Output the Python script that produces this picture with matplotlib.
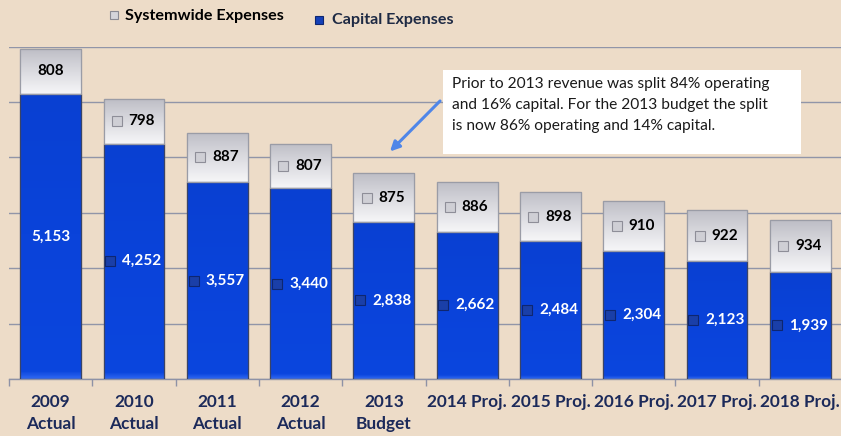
import numpy as np
import matplotlib
matplotlib.use("Agg")
import matplotlib.pyplot as plt
from matplotlib.patches import Rectangle
from matplotlib.colors import LinearSegmentedColormap

categories = ["2009\nActual", "2010\nActual", "2011\nActual", "2012\nActual", "2013\nBudget",
              "2014 Proj.", "2015 Proj.", "2016 Proj.", "2017 Proj.", "2018 Proj."]
capital = [5153, 4252, 3557, 3440, 2838, 2662, 2484, 2304, 2123, 1939]
systemwide = [808, 798, 887, 807, 875, 886, 898, 910, 922, 934]
show_icon = [False, True, True, True, True, True, True, True, True, True]
legend_labels = ["Systemwide Expenses", "Capital Expenses"]
note = ("Prior to 2013 revenue was split 84% operating\n"
        "and 16% capital. For the 2013 budget the split\n"
        "is now 86% operating and 14% capital.")

FONT = "Lato"
BG = "#EDDCC8"
BLUE = "#0A43DA"
GREY = "#D9D9DE"
NAVY = "#1C2A5A"

fig = plt.figure(figsize=(8.41, 4.36), dpi=100, facecolor=BG)
ax = fig.add_axes([9/841, 57/436, 833/841, 332.3/436])
ax.set_facecolor("none")

x = np.arange(len(categories))
w = 0.73
ax.set_xlim(-0.5, len(categories) - 0.5)
ax.set_ylim(0, 6000)

# gridlines
ax.set_yticks(np.arange(0, 6001, 1000))
ax.yaxis.grid(True, color="#9195A8", linewidth=1.0, zorder=0)
ax.tick_params(axis="y", left=False, labelleft=False)
for s in ["left", "right", "top"]:
    ax.spines[s].set_visible(False)
ax.spines["bottom"].set_color("#8E92A6")
ax.spines["bottom"].set_linewidth(1.0)

# category boundary ticks
ax.set_xticks(np.arange(-0.5, len(categories), 1.0), minor=True)
ax.tick_params(axis="x", which="minor", length=5, color="#8E92A6", width=1)
ax.set_xticks(x)
ax.set_xticklabels(categories, fontfamily=FONT, fontweight="bold", fontsize=12.4,
                   color=NAVY, linespacing=1.45)
ax.tick_params(axis="x", which="major", length=0, pad=11)

cmap_blue = LinearSegmentedColormap.from_list("b", ["#2E66F0", "#0B46DE", "#0A43DA", "#0940D2"])
cmap_grey = LinearSegmentedColormap.from_list("g", ["#F6F6F8", "#E4E4E8", "#D2D2D8", "#BEBEC6"])

bars_b = ax.bar(x, capital, width=w, color=BLUE, edgecolor="#4A5270", linewidth=0.8, zorder=2)
bars_g = ax.bar(x, systemwide, width=w, bottom=capital, color=GREY, edgecolor="#8A8C96",
                linewidth=0.8, zorder=2)

# gradients clipped to bars
grad_g = np.linspace(0, 1, 100).reshape(-1, 1)
grad_b = np.concatenate([np.linspace(0, 0.33, 6), np.linspace(0.34, 1, 194)]).reshape(-1, 1)
for rb, rg in zip(bars_b, bars_g):
    x0 = rb.get_x()
    im = ax.imshow(grad_g, cmap=cmap_grey, aspect="auto", zorder=2.5,
                   extent=(x0, x0 + w, rg.get_y() + rg.get_height(), rg.get_y()))
    im.set_clip_path(rg)
    im2 = ax.imshow(grad_b, cmap=cmap_blue, aspect="auto", zorder=2.5,
                    extent=(x0, x0 + w, rb.get_height(), 0))
    im2.set_clip_path(rb)
    for r, ec in ((rb, "#3A4466"), (rg, "#9A9CA6")):
        ax.add_patch(Rectangle((r.get_x(), r.get_y()), w, r.get_height(), fill=False,
                               edgecolor=ec, linewidth=0.9, zorder=3))

fig.canvas.draw()
renderer = fig.canvas.get_renderer()


def label(xc, yc, txt, color, icon, icon_fc, icon_ec):
    t = ax.text(xc, yc, txt, ha="center", va="center", fontfamily=FONT, fontweight="bold",
                fontsize=11, color=color, zorder=5)
    if icon:
        bb = t.get_window_extent(renderer)
        tw = bb.width
        gap = 8
        isz = 8
        total = isz + gap + tw
        disp = ax.transData.transform((xc, yc))
        left = disp[0] - total / 2
        t.set_position(ax.transData.inverted().transform((left + isz + gap + tw / 2, disp[1])))
        ipos = ax.transData.inverted().transform((left + isz / 2, disp[1]))
        ax.plot(ipos[0], ipos[1], marker="s", markersize=6.5, markerfacecolor=icon_fc,
                markeredgecolor=icon_ec, markeredgewidth=0.8, zorder=5)


for i in range(len(categories)):
    label(x[i], capital[i] / 2, f"{capital[i]:,}", "white", show_icon[i], "#1A3FA8", "#0E2670")
    label(x[i], capital[i] + systemwide[i] / 2, f"{systemwide[i]:,}", "black", show_icon[i],
          "#CFCFD5", "#8E8E98")

# legend
fig.patches.append(Rectangle((110/841, 1 - 19/436), 8/841, 8/436, transform=fig.transFigure,
                             facecolor="#D5D5DA", edgecolor="#8A8A92", linewidth=0.8))
fig.text(125/841, 1 - 16/436, legend_labels[0], fontfamily=FONT, fontweight="bold",
         fontsize=11.6, color="black", va="center", ha="left")
fig.patches.append(Rectangle((315/841, 1 - 24/436), 8/841, 8/436, transform=fig.transFigure,
                             facecolor="#1440B8", edgecolor="#0E2670", linewidth=0.8))
fig.text(332/841, 1 - 20/436, legend_labels[1], fontfamily=FONT, fontweight="bold",
         fontsize=11.6, color="#1E2A44", va="center", ha="left")

# note box
fig.patches.append(Rectangle((443/841, 1 - 154/436), 358/841, 84/436, transform=fig.transFigure,
                             facecolor="white", edgecolor="none", zorder=4))
fig.text(452/841, 1 - 77/436, note, fontfamily=FONT, fontsize=11.2, color="#1A1A1A",
         va="top", ha="left", linespacing=1.62, zorder=5)

# arrow pointing to 2013 bar
tip = (x[4] + 0.05, capital[4] + systemwide[4] + 360)
ax.annotate("", xy=tip, xytext=(442/841, 1 - 99/436), textcoords="figure fraction",
            arrowprops=dict(arrowstyle="-|>", color="#4F86E8", lw=2.2, mutation_scale=14),
            zorder=6)

fig.savefig("out.png", dpi=100, facecolor=BG)
